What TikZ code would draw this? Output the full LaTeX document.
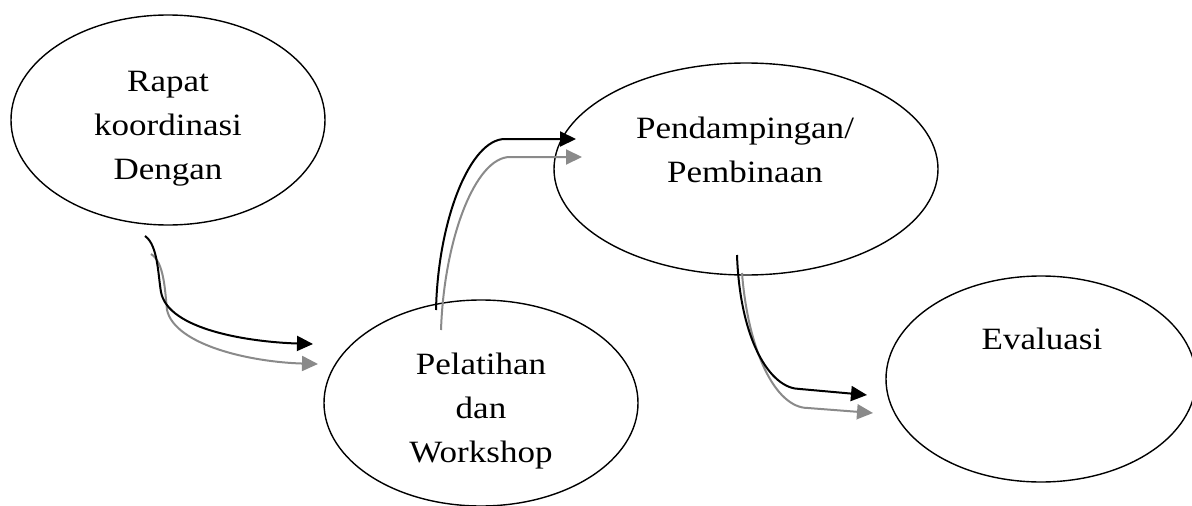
\documentclass[tikz,border=0pt]{standalone}
\usepackage{fontspec}
\setmainfont{Liberation Serif}[FakeStretch=1.13]
\usetikzlibrary{shapes.geometric,arrows.meta}
\definecolor{arrgray}{HTML}{8A8A8A}
\tikzset{
  bubble/.style={draw=black, line width=1.4pt, ellipse, inner sep=0pt},
  lbl/.style={inner sep=0pt, align=center, anchor=north, font=\fontsize{31}{44}\selectfont},
  darkarrow/.style={draw=black, line width=2pt, -{Triangle[length=16pt,width=15pt]}},
  lightarrow/.style={draw=arrgray, line width=2pt, -{Triangle[length=16pt,width=15pt]}}
}
\begin{document}
\begin{tikzpicture}[x=1pt,y=-1pt]
\useasboundingbox (0,0) rectangle (1192,506);
\clip (0,0) rectangle (1192,506);
% ellipses
\node[bubble, minimum width=314pt, minimum height=210pt] (e1) at (168,120) {};
\node[bubble, minimum width=314pt, minimum height=206pt] (e2) at (481,403) {};
\node[bubble, minimum width=384pt, minimum height=212pt] (e3) at (746,169) {};
\node[bubble, minimum width=310pt, minimum height=206pt] (e4) at (1041,379) {};
% labels
\node[lbl] (t1) at (168,71) {Rapat\\koordinasi\\Dengan};
\node[lbl] (t2) at (481,353) {Pelatihan\\dan\\Workshop};
\node[lbl] (t3) at (745,117) {Pendampingan/\\Pembinaan};
\node[lbl] (t4) at (1042,328) {Evaluasi};
% connector end points
\coordinate (a1s) at (145,236); \coordinate (a1m) at (161,292); \coordinate (a1e) at (313,344);
\coordinate (b1s) at (151,254); \coordinate (b1m) at (167,310); \coordinate (b1e) at (318,364);
\coordinate (a2s) at (436,310); \coordinate (a2m) at (505,139); \coordinate (a2e) at (576,139);
\coordinate (b2s) at (441,330); \coordinate (b2m) at (510,157); \coordinate (b2e) at (582,157);
\coordinate (a3s) at (737,255); \coordinate (a3m) at (800,389); \coordinate (a3e) at (867,395);
\coordinate (b3s) at (742,273); \coordinate (b3m) at (808,408); \coordinate (b3e) at (873,413);
% e1 -> e2
\draw[lightarrow] (b1s) .. controls (164,262) and (165,290) .. (b1m) .. controls (175,345) and (250,362) .. (b1e);
\draw[darkarrow] (a1s) .. controls (158,245) and (158,275) .. (a1m) .. controls (168,330) and (250,342) .. (a1e);
% e2 -> e3
\draw[lightarrow] (b2s) .. controls (444,240) and (475,157) .. (b2m) -- (b2e);
\draw[darkarrow] (a2s) .. controls (438,220) and (470,139) .. (a2m) -- (a2e);
% e3 -> e4
\draw[lightarrow] (b3s) .. controls (748,350) and (775,408) .. (b3m) -- (b3e);
\draw[darkarrow] (a3s) .. controls (740,340) and (770,389) .. (a3m) -- (a3e);
\end{tikzpicture}
\end{document}
